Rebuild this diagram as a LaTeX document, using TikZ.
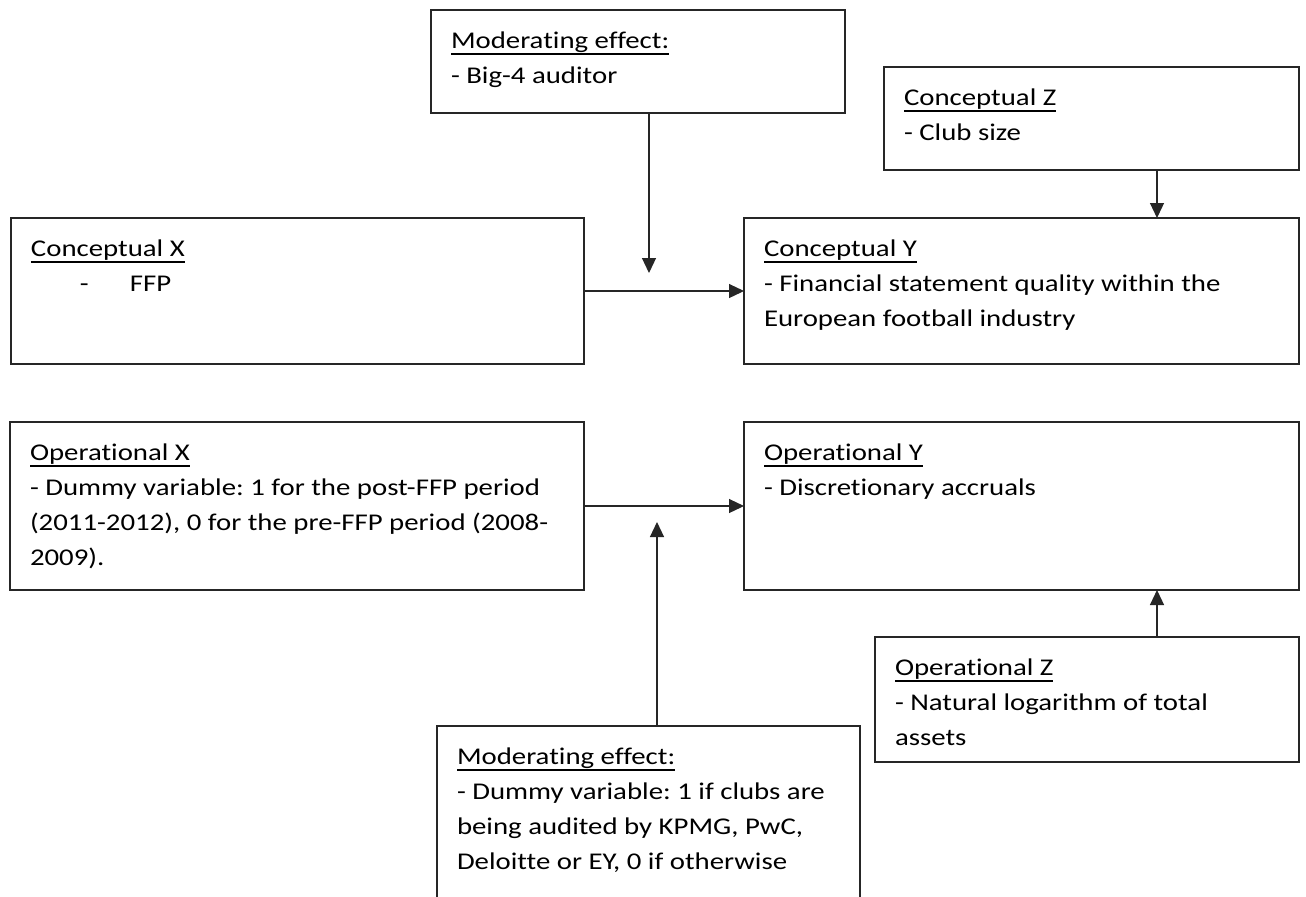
\documentclass[tikz,border=0pt]{standalone}
\usepackage{fontspec}
\setmainfont{Carlito}[FakeStretch=1.2, Ligatures=NoCommon]
\usetikzlibrary{arrows.meta}
\frenchspacing
\newcommand\undl[1]{\setbox0\hbox{#1}\rlap{\rule[-3.4pt]{\wd0}{0.8pt}}\box0}
\tikzset{
  bx/.style={draw=black!85, line width=0.7pt, inner sep=0pt, outer sep=0pt, anchor=north west},
  txt/.style={inner sep=0pt, outer sep=0pt, anchor=north west, align=left,
    font=\fontsize{12pt}{17.5pt}\selectfont},
  arr/.style={draw=black!85, line width=0.6pt, -{Triangle[length=7.5pt,width=7pt]}}
}
\begin{document}
\begin{tikzpicture}[x=0.5pt,y=-0.5pt]
\useasboundingbox[fill=white] (0,0) rectangle (1306,896);
% boxes
\node[bx, minimum width=207pt, minimum height=51.5pt] (A) at (431,10) {};
\node[txt] (At) at (451,23.5) {\strut\undl{Moderating effect:}\\- Big-4 auditor};
\node[bx, minimum width=207.5pt, minimum height=51.5pt] (Z) at (884,67) {};
\node[txt] (Zt) at (904,80.5) {\strut\undl{Conceptual Z}\\- Club size};
\node[bx, minimum width=286.5pt, minimum height=73pt] (X) at (11,218) {};
\node[txt] (Xt) at (31,231.5) {\strut\undl{Conceptual X}\\\hspace*{24.5pt}\makebox[25pt][l]{-}FFP};
\node[bx, minimum width=277.5pt, minimum height=73pt] (Y) at (744,218) {};
\node[txt] (Yt) at (764,231.5) {\strut\undl{Conceptual Y}\\- Financial statement quality within the\\European football industry};
\node[bx, minimum width=287pt, minimum height=84pt] (OX) at (10,422) {};
\node[txt] (OXt) at (30,435.5) {\strut\undl{Operational X}\\- Dummy variable: 1 for the post-FFP period\\(2011-2012), 0 for the pre-FFP period (2008-\\2009).};
\node[bx, minimum width=277.5pt, minimum height=84pt] (OY) at (744,422) {};
\node[txt] (OYt) at (764,435.5) {\strut\undl{Operational Y}\\- Discretionary accruals};
\node[bx, minimum width=212pt, minimum height=62.5pt] (OZ) at (875,637) {};
\node[txt] (OZt) at (895,650.5) {\strut\undl{Operational Z}\\- Natural logarithm of total\\assets};
\node[bx, minimum width=211.5pt, minimum height=87pt] (B) at (437,726) {};
\node[txt] (Bt) at (457,739.5) {\strut\undl{Moderating effect:}\\- Dummy variable: 1 if clubs are\\being audited by KPMG, PwC,\\Deloitte or EY, 0 if otherwise};
% connectors
\coordinate (m1) at (649,273);
\coordinate (zx) at (1157,190);
\coordinate (m2) at (657,522);
\draw[arr] (A.south -| m1) -- (m1);
\draw[arr] (X.east) -- (Y.west);
\draw[arr] (Z.south -| zx) -- (Y.north -| zx);
\draw[arr] (OX.east) -- (OY.west);
\draw[arr] (B.north -| m2) -- (m2);
\draw[arr] (OZ.north -| zx) -- (OY.south -| zx);
\end{tikzpicture}
\end{document}
